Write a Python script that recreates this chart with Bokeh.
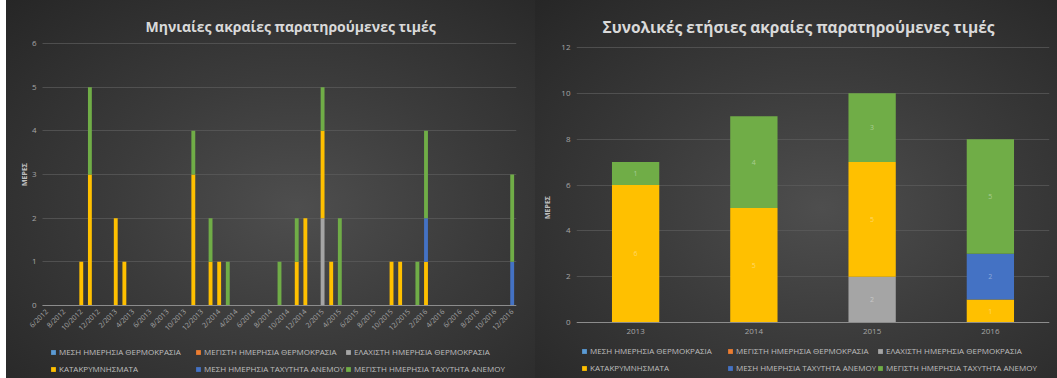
from math import pi
from bokeh.plotting import figure
from bokeh.models import (FactorRange, Range1d, Legend, LegendItem, ColumnDataSource,
                          LabelSet, FixedTicker)
from bokeh.layouts import row
from bokeh.embed import file_html
from bokeh.resources import INLINE
from bokeh.core.properties import value

# ---------------- data ----------------
months = ["6/2012", "7/2012", "8/2012", "9/2012", "10/2012", "11/2012", "12/2012",
          "1/2013", "2/2013", "3/2013", "4/2013", "5/2013", "6/2013", "7/2013", "8/2013", "9/2013", "10/2013", "11/2013", "12/2013",
          "1/2014", "2/2014", "3/2014", "4/2014", "5/2014", "6/2014", "7/2014", "8/2014", "9/2014", "10/2014", "11/2014", "12/2014",
          "1/2015", "2/2015", "3/2015", "4/2015", "5/2015", "6/2015", "7/2015", "8/2015", "9/2015", "10/2015", "11/2015", "12/2015",
          "1/2016", "2/2016", "3/2016", "4/2016", "5/2016", "6/2016", "7/2016", "8/2016", "9/2016", "10/2016", "11/2016", "12/2016"]
month_tick_labels = ["6/2012", "8/2012", "10/2012", "12/2012", "2/2013", "4/2013", "6/2013", "8/2013", "10/2013", "12/2013",
                     "2/2014", "4/2014", "6/2014", "8/2014", "10/2014", "12/2014", "2/2015", "4/2015", "6/2015", "8/2015",
                     "10/2015", "12/2015", "2/2016", "4/2016", "6/2016", "8/2016", "10/2016", "12/2016"]

series_names = ["ΜΕΣΗ ΗΜΕΡΗΣΙΑ ΘΕΡΜΟΚΡΑΣΙΑ", "ΜΕΓΙΣΤΗ ΗΜΕΡΗΣΙΑ ΘΕΡΜΟΚΡΑΣΙΑ", "ΕΛΑΧΙΣΤΗ ΗΜΕΡΗΣΙΑ ΘΕΡΜΟΚΡΑΣΙΑ",
                "ΚΑΤΑΚΡΥΜΝΗΣΜΑΤΑ", "ΜΕΣΗ ΗΜΕΡΗΣΙΑ ΤΑΧΥΤΗΤΑ ΑΝΕΜΟΥ", "ΜΕΓΙΣΤΗ ΗΜΕΡΗΣΙΑ ΤΑΧΥΤΗΤΑ ΑΝΕΜΟΥ"]
series_colors = ["#5b9bd5", "#ed7d31", "#a5a5a5", "#ffc000", "#4472c4", "#70ad47"]

# monthly counts (2012: Jun-Dec, then Jan-Dec for each year)
m_mean_temp = ([0, 0, 0, 0, 0, 0, 0] + [0, 0, 0, 0, 0, 0, 0, 0, 0, 0, 0, 0] + [0, 0, 0, 0, 0, 0, 0, 0, 0, 0, 0, 0]
               + [0, 0, 0, 0, 0, 0, 0, 0, 0, 0, 0, 0] + [0, 0, 0, 0, 0, 0, 0, 0, 0, 0, 0, 0])
m_max_temp = ([0, 0, 0, 0, 0, 0, 0] + [0, 0, 0, 0, 0, 0, 0, 0, 0, 0, 0, 0] + [0, 0, 0, 0, 0, 0, 0, 0, 0, 0, 0, 0]
              + [0, 0, 0, 0, 0, 0, 0, 0, 0, 0, 0, 0] + [0, 0, 0, 0, 0, 0, 0, 0, 0, 0, 0, 0])
m_min_temp = ([0, 0, 0, 0, 0, 0, 0] + [0, 0, 0, 0, 0, 0, 0, 0, 0, 0, 0, 0] + [0, 0, 0, 0, 0, 0, 0, 0, 0, 0, 0, 0]
              + [0, 2, 0, 0, 0, 0, 0, 0, 0, 0, 0, 0] + [0, 0, 0, 0, 0, 0, 0, 0, 0, 0, 0, 0])
m_precip = ([0, 0, 0, 0, 1, 3, 0] + [0, 2, 1, 0, 0, 0, 0, 0, 0, 0, 3, 0] + [1, 1, 0, 0, 0, 0, 0, 0, 0, 0, 1, 2]
            + [0, 2, 1, 0, 0, 0, 0, 0, 0, 1, 1, 0] + [0, 1, 0, 0, 0, 0, 0, 0, 0, 0, 0, 0])
m_mean_wind = ([0, 0, 0, 0, 0, 0, 0] + [0, 0, 0, 0, 0, 0, 0, 0, 0, 0, 0, 0] + [0, 0, 0, 0, 0, 0, 0, 0, 0, 0, 0, 0]
               + [0, 0, 0, 0, 0, 0, 0, 0, 0, 0, 0, 0] + [0, 1, 0, 0, 0, 0, 0, 0, 0, 0, 0, 1])
m_max_wind = ([0, 0, 0, 0, 0, 2, 0] + [0, 0, 0, 0, 0, 0, 0, 0, 0, 0, 1, 0] + [1, 0, 1, 0, 0, 0, 0, 0, 1, 0, 1, 0]
              + [0, 1, 0, 2, 0, 0, 0, 0, 0, 0, 0, 0] + [1, 2, 0, 0, 0, 0, 0, 0, 0, 0, 0, 2])

years = ["2013", "2014", "2015", "2016"]
y_mean_temp = [0, 0, 0, 0]
y_max_temp = [0, 0, 0, 0]
y_min_temp = [0, 0, 2, 0]
y_precip = [6, 5, 5, 1]
y_mean_wind = [0, 0, 0, 2]
y_max_wind = [1, 4, 3, 5]

monthly_ticks = [0, 1, 2, 3, 4, 5, 6]
yearly_ticks = [0, 2, 4, 6, 8, 10, 12]

keys = ["s0", "s1", "s2", "s3", "s4", "s5"]
FONT = "Open Sans"
TXT = "#a6a6a6"
BG = "radial-gradient(ellipse at 55% 55%, #4e4e4e 0%, #3b3b3b 45%, #262626 100%)"


def style(p, title, title_size, title_offset, title_standoff, yticks, ylab_standoff):
    p.title.text = title
    p.title.align = "left"
    p.title.text_font = FONT
    p.title.text_font_size = title_size
    p.title.text_color = "#d9d9d9"
    p.title.text_font_style = "bold"
    p.title.standoff = title_standoff
    p.title.offset = title_offset
    p.background_fill_alpha = 0
    p.border_fill_alpha = 0
    p.styles = {"background": BG}
    p.outline_line_color = None
    p.xgrid.grid_line_color = None
    p.ygrid.grid_line_color = "#5c5c5c"
    p.ygrid.grid_line_alpha = 0.7
    p.xaxis.fixed_location = 0
    p.xaxis.axis_line_color = "#8c8c8c"
    p.xaxis.major_tick_line_color = None
    p.xaxis.minor_tick_line_color = None
    p.xaxis.major_tick_out = 0
    p.xaxis.major_tick_in = 0
    p.xaxis.major_label_text_color = TXT
    p.xaxis.major_label_text_font = FONT
    p.yaxis.ticker = FixedTicker(ticks=yticks)
    p.yaxis.bounds = (yticks[0], yticks[-1])
    p.yaxis.axis_line_color = None
    p.yaxis.major_tick_line_color = None
    p.yaxis.minor_tick_line_color = None
    p.yaxis.major_tick_out = 0
    p.yaxis.major_tick_in = 0
    p.yaxis.major_label_text_color = TXT
    p.yaxis.major_label_text_font = FONT
    p.yaxis.major_label_text_font_size = "8px"
    p.yaxis.major_label_standoff = 6
    p.yaxis.axis_label = "ΜΕΡΕΣ"
    p.yaxis.axis_label_text_font = FONT
    p.yaxis.axis_label_text_font_size = "7px"
    p.yaxis.axis_label_text_font_style = "bold"
    p.yaxis.axis_label_text_color = "#bfbfbf"
    p.yaxis.axis_label_standoff = ylab_standoff


def add_legends(p, rends, xs, y):
    # three legend columns, two rows each (same arrangement as the reference)
    for c in range(3):
        items = [LegendItem(label=series_names[c], renderers=[rends[c]]),
                 LegendItem(label=series_names[c + 3], renderers=[rends[c + 3]])]
        leg = Legend(items=items, location=(xs[c], y), orientation="vertical",
                     label_text_font=FONT, label_text_font_size="8px", label_text_color="#bfbfbf",
                     glyph_width=6, glyph_height=6, label_standoff=3, spacing=6,
                     padding=0, margin=0, background_fill_alpha=0, border_line_alpha=0,
                     label_height=10, label_width=10)
        p.add_layout(leg, "center")


# ---------------- left: monthly ----------------
month_idx = list(range(len(months)))
src1 = ColumnDataSource(dict(x=month_idx, s0=m_mean_temp, s1=m_max_temp, s2=m_min_temp,
                             s3=m_precip, s4=m_mean_wind, s5=m_max_wind))
p1 = figure(x_range=Range1d(-4.445, len(months) - 0.5), y_range=Range1d(-1.626, 6.115), width=529, height=378,
            output_backend="svg", toolbar_location=None,
            min_border_left=2, min_border_right=19, min_border_top=38, min_border_bottom=2)
style(p1, "Μηνιαίες ακραίες παρατηρούμενες τιμές", "14px", 137, 5, monthly_ticks, 0)
p1.yaxis.fixed_location = -0.5
p1.ygrid.cross_bounds = (-0.5, len(months) - 0.5)
p1.xaxis.bounds = (-0.5, len(months) - 0.5)
tick_pos = [months.index(m) for m in month_tick_labels]
p1.xaxis.ticker = FixedTicker(ticks=tick_pos)
p1.xaxis.major_label_overrides = {i: m for i, m in zip(tick_pos, month_tick_labels)}
p1.xaxis.major_label_orientation = pi / 4
p1.xaxis.major_label_text_font_size = "7px"
p1.xaxis.major_label_standoff = 5
r1 = p1.vbar_stack(keys, x="x", width=0.45, color=series_colors, source=src1, line_color=None)
add_legends(p1, r1, [42, 187, 337], 2)

# ---------------- right: annual ----------------
src2 = ColumnDataSource(dict(x=years, s0=y_mean_temp, s1=y_max_temp, s2=y_min_temp,
                             s3=y_precip, s4=y_mean_wind, s5=y_max_wind))
p2 = figure(x_range=FactorRange(*years), y_range=Range1d(-2.356, 12.393), width=522, height=378,
            output_backend="svg", toolbar_location=None,
            min_border_left=41, min_border_right=8, min_border_top=38, min_border_bottom=2)
style(p2, "Συνολικές ετήσιες ακραίες παρατηρούμενες τιμές", "15.5px", 26, 1, yearly_ticks, 6)
p2.x_range.range_padding = 0
p2.xaxis.major_label_text_font_size = "8px"
p2.xaxis.major_label_standoff = 6
r2 = p2.vbar_stack(keys, x="x", width=0.4, color=series_colors, source=src2, line_color=None)
add_legends(p2, r2, [5, 151, 301], 3)

# segment value labels
lx, ly, lt = [], [], []
all_series = [y_mean_temp, y_max_temp, y_min_temp, y_precip, y_mean_wind, y_max_wind]
for i, yr in enumerate(years):
    base = 0
    for s in all_series:
        v = s[i]
        if v:
            lx.append(yr)
            ly.append(base + v / 2)
            lt.append(str(v))
        base += v
lab = LabelSet(x="x", y="y", text="t", source=ColumnDataSource(dict(x=lx, y=ly, t=lt)),
               text_align="center", text_baseline="middle", text_font=value(FONT),
               text_font_size="7px", text_color="#ffffff", text_alpha=0.4)
p2.add_layout(lab)

layout = row(p1, p2, spacing=0, margin=(0, 0, 0, 6))
open("out.html", "w").write(file_html(layout, INLINE))
